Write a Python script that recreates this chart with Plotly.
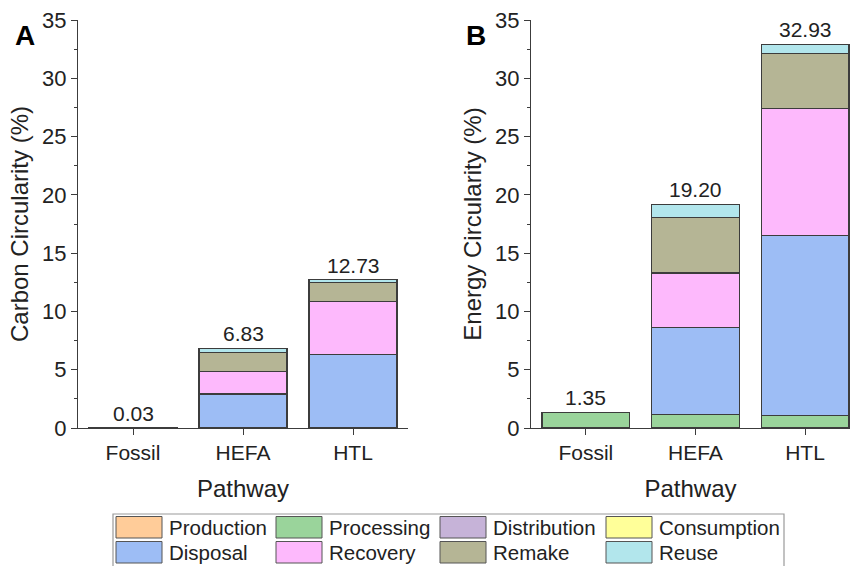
import plotly.graph_objects as go

# Pathways and life-cycle stages
pathways = ["Fossil", "HEFA", "HTL"]
stages = ["Production", "Processing", "Distribution", "Consumption",
          "Disposal", "Recovery", "Remake", "Reuse"]
stage_colors = ["#FFCC99", "#9AD49B", "#C6B3D8", "#FFFF99",
                "#9DBDF5", "#FDB9FC", "#B5B595", "#B2E6EC"]

# Carbon circularity (%) by stage
carbon_production = [0, 0, 0]
carbon_processing = [0.03, 0.02, 0.03]
carbon_distribution = [0, 0, 0]
carbon_consumption = [0, 0, 0]
carbon_disposal = [0, 2.90, 6.30]
carbon_recovery = [0, 1.90, 4.52]
carbon_remake = [0, 1.68, 1.63]
carbon_reuse = [0, 0.33, 0.25]

# Energy circularity (%) by stage
energy_production = [0, 0, 0]
energy_processing = [1.35, 1.17, 1.09]
energy_distribution = [0, 0, 0]
energy_consumption = [0, 0, 0]
energy_disposal = [0, 7.45, 15.40]
energy_recovery = [0, 4.68, 10.91]
energy_remake = [0, 4.77, 4.76]
energy_reuse = [0, 1.13, 0.77]

carbon = [carbon_production, carbon_processing, carbon_distribution, carbon_consumption,
          carbon_disposal, carbon_recovery, carbon_remake, carbon_reuse]
energy = [energy_production, energy_processing, energy_distribution, energy_consumption,
          energy_disposal, energy_recovery, energy_remake, energy_reuse]

W, H = 850, 566
FONT = "Liberation Sans, Arial, sans-serif"
INK = "#222222"
EDGE = "#3c3c3c"


def px(x):
    return x / W


def py(y):
    return (H - y) / H


fig = go.Figure()

for series, xa, ya in [(carbon, "x", "y"), (energy, "x2", "y2")]:
    for name, color, vals in zip(stages, stage_colors, series):
        fig.add_trace(go.Bar(
            x=pathways, y=vals, name=name, xaxis=xa, yaxis=ya,
            marker=dict(color=color, line=dict(color=EDGE, width=1.2)),
            width=0.8, showlegend=False,
        ))
    totals = [sum(col) for col in zip(*series)]
    for p, t in zip(pathways, totals):
        fig.add_annotation(
            x=p, y=t, xref=xa, yref=ya, text=f"{t:.2f}", showarrow=False,
            yanchor="bottom", yshift=1,
            font=dict(family=FONT, size=21, color=INK),
        )

y_common = dict(
    range=[0, 35], dtick=5, ticks="outside", ticklen=6, tickwidth=1.2,
    tickcolor=EDGE, showline=True, linecolor=EDGE, linewidth=1.3,
    showgrid=False, zeroline=False, automargin=False,
    minor=dict(dtick=2.5, ticks="outside", ticklen=3, tickcolor=EDGE, tickwidth=1.2),
    tickfont=dict(family=FONT, size=22, color=INK),
    domain=[py(428), py(20)],
)
x_common = dict(
    type="category", ticks="outside", ticklen=6, tickwidth=1.2, tickcolor=EDGE,
    showline=True, linecolor=EDGE, linewidth=1.3, showgrid=False, automargin=False,
    tickfont=dict(family=FONT, size=21, color=INK),
)

fig.update_layout(
    width=W, height=H, barmode="stack",
    margin=dict(l=0, r=0, t=0, b=0, autoexpand=False),
    paper_bgcolor="white", plot_bgcolor="white",
    font=dict(family=FONT, color=INK),
    xaxis=dict(x_common, domain=[px(78), px(408)], range=[-0.5, 2.5], anchor="y",
               title=dict(text="Pathway", font=dict(family=FONT, size=24, color=INK), standoff=16)),
    xaxis2=dict(x_common, domain=[px(531), 1.0], range=[-0.5, 2.41], anchor="y2",
                title=dict(text="Pathway", font=dict(family=FONT, size=24, color=INK), standoff=16)),
    yaxis=dict(y_common, anchor="x",
               title=dict(text="Carbon Circularity (%)", font=dict(family=FONT, size=24, color=INK), standoff=6)),
    yaxis2=dict(y_common, anchor="x2",
                title=dict(text="Energy Circularity (%)", font=dict(family=FONT, size=24, color=INK), standoff=6)),
)

# Panel letters
for letter, xc in [("A", 25), ("B", 476)]:
    fig.add_annotation(x=px(xc), y=py(35), xref="paper", yref="paper", text=f"<b>{letter}</b>",
                       showarrow=False, xanchor="center", yanchor="middle",
                       font=dict(family=FONT, size=28, color="black"))

# Legend box with swatches, four columns by two rows
fig.add_shape(type="rect", xref="paper", yref="paper",
              x0=px(113), x1=px(784), y0=py(568), y1=py(514),
              line=dict(color="#9a9a9a", width=1.2), fillcolor="white")
col_x = [116, 276, 440, 606]
row_y = [516.5, 541.5]
for i, (name, color) in enumerate(zip(stages, stage_colors)):
    cx = col_x[i % 4]
    ry = row_y[i // 4]
    fig.add_shape(type="rect", xref="paper", yref="paper",
                  x0=px(cx), x1=px(cx + 46), y0=py(ry + 21.5), y1=py(ry),
                  line=dict(color="#555555", width=1), fillcolor=color)
    fig.add_annotation(x=px(cx + 51), y=py(ry + 11), xref="paper", yref="paper",
                       text=name, showarrow=False, xanchor="left", yanchor="middle",
                       font=dict(family=FONT, size=20.5, color=INK))

fig.write_html("out.html")
